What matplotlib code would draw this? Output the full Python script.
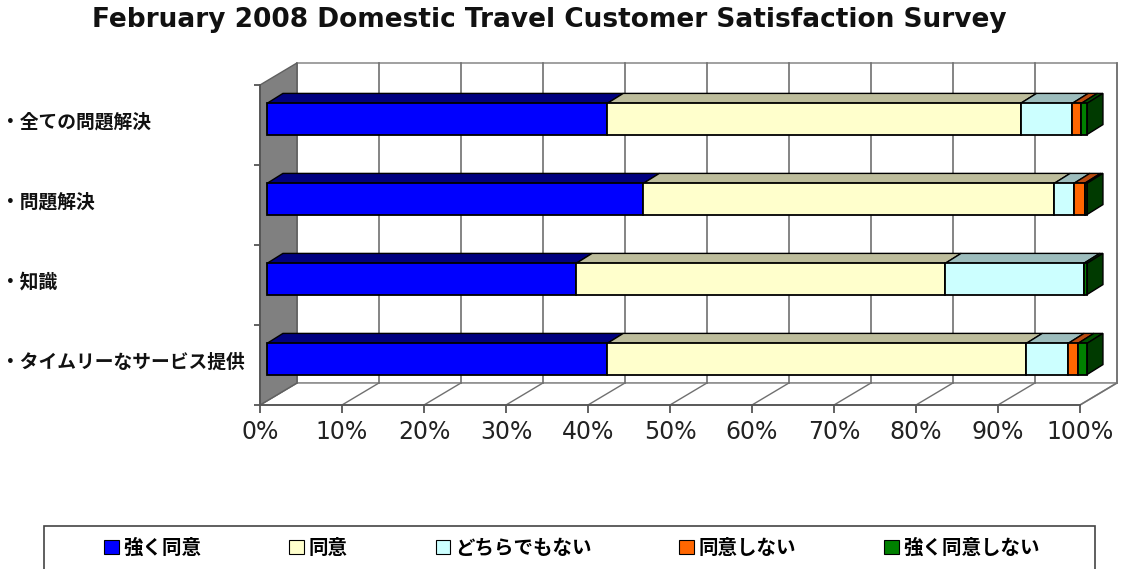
import numpy as np
import matplotlib
matplotlib.use("Agg")
import matplotlib.pyplot as plt
import matplotlib.transforms as mtransforms
from matplotlib.patches import Polygon, Rectangle, Patch

# survey results, percent of respondents per item
categories = ["・全ての問題解決", "・問題解決", "・知識", "・タイムリーなサービス提供"]
series_names = ["強く同意", "同意", "どちらでもない", "同意しない", "強く同意しない"]
strongly_agree = [41.5, 45.9, 37.7, 41.5]
agree = [50.4, 50.1, 45.0, 51.1]
neutral = [6.3, 2.4, 16.9, 5.1]
disagree = [1.1, 1.3, 0.0, 1.2]
strongly_disagree = [0.7, 0.3, 0.4, 1.1]
x_ticks = [0, 10, 20, 30, 40, 50, 60, 70, 80, 90, 100]
x_ticklabels = [f"{t}%" for t in x_ticks]
title = "February 2008 Domestic Travel Customer Satisfaction Survey"

front_colors = ["#0000FF", "#FFFFCC", "#CCFFFF", "#FF6600", "#008000"]
top_colors = ["#000080", "#BDBD9C", "#9DBDBD", "#B84A10", "#005000"]
side_color = "#003A00"

# fake 3d geometry (x in percent, y in category units)
WALL_DX, WALL_DY = 4.5, 0.275
BAR_DX, BAR_DY = 0.85, 0.075
BAR_H = 0.39
DEPTH_DX, DEPTH_DY = 1.95, 0.125
GRID = "#707070"

CJK = ["Noto Sans CJK JP", "DejaVu Sans"]

W, H = 1124, 569
fig = plt.figure(figsize=(W / 100, H / 100), dpi=100)
fig.patch.set_facecolor("white")
ax = fig.add_axes([260 / W, 164 / H, 820 / W, 320 / H])
ax.set_xlim(0, 100)
ax.set_ylim(3.5, -0.5)
ax.patch.set_visible(False)

top, bottom = -0.5, 3.5

# back wall + gridlines
ax.add_patch(Rectangle((WALL_DX, top - WALL_DY), 100, bottom - top,
                       fc="white", ec="#909090", lw=1.2, zorder=0, clip_on=False))
for t in x_ticks:
    ax.plot([t + WALL_DX] * 2, [top - WALL_DY, bottom - WALL_DY],
            color=GRID, lw=1.2, zorder=1, clip_on=False)

# floor
ax.add_patch(Polygon([(0, bottom), (100, bottom), (100 + WALL_DX, bottom - WALL_DY),
                      (WALL_DX, bottom - WALL_DY)],
                     closed=True, fc="white", ec="#909090", lw=1.2, zorder=0, clip_on=False))
for t in x_ticks:
    ax.plot([t, t + WALL_DX], [bottom, bottom - WALL_DY],
            color=GRID, lw=1.0, zorder=1, clip_on=False)

# left side wall
ax.add_patch(Polygon([(0, top), (0, bottom), (WALL_DX, bottom - WALL_DY),
                      (WALL_DX, top - WALL_DY)],
                     closed=True, fc="#808080", ec="#606060", lw=1.0, zorder=1, clip_on=False))

# stacked bars
series = [strongly_agree, agree, neutral, disagree, strongly_disagree]
ypos = np.arange(len(categories)) - BAR_DY
lefts = np.zeros(len(categories))
for vals, fc, tc in zip(series, front_colors, top_colors):
    vals = np.asarray(vals, dtype=float)
    ax.barh(ypos, vals, left=lefts + BAR_DX, height=BAR_H, color=fc,
            edgecolor="black", lw=1.3, zorder=4, clip_on=False)
    for y, l, w in zip(ypos, lefts, vals):
        if w <= 0:
            continue
        x0 = l + BAR_DX
        yt = y - BAR_H / 2
        ax.add_patch(Polygon([(x0, yt), (x0 + w, yt), (x0 + w + DEPTH_DX, yt - DEPTH_DY),
                              (x0 + DEPTH_DX, yt - DEPTH_DY)],
                             closed=True, fc=tc, ec="black", lw=1.0, zorder=3, clip_on=False))
    lefts = lefts + vals

# right-hand end of each bar
for y, r in zip(ypos, lefts):
    x1 = r + BAR_DX
    yt, yb = y - BAR_H / 2, y + BAR_H / 2
    ax.add_patch(Polygon([(x1, yt), (x1, yb), (x1 + DEPTH_DX, yb - DEPTH_DY),
                          (x1 + DEPTH_DX, yt - DEPTH_DY)],
                         closed=True, fc=side_color, ec="black", lw=1.0, zorder=3, clip_on=False))

# axes lines and ticks
for s in ("top", "right"):
    ax.spines[s].set_visible(False)
for s in ("left", "bottom"):
    ax.spines[s].set_color("#555555")
    ax.spines[s].set_linewidth(1.3)
ax.set_xticks(x_ticks)
ax.set_xticklabels(x_ticklabels, fontsize=17, family="DejaVu Sans", color="#222222")
ax.set_yticks(np.arange(-0.5, len(categories), 1.0))
ax.set_yticklabels([])
ax.tick_params(axis="x", direction="out", length=6, width=1.3, color="#555555", pad=5)
ax.tick_params(axis="y", direction="out", length=4, width=1.3, color="#555555")

# category labels, left aligned at the figure edge
lab_tr = mtransforms.blended_transform_factory(fig.transFigure, ax.transData)
for i, name in enumerate(categories):
    fig.text(1 / W, i - 0.04, name, transform=lab_tr, ha="left", va="center",
             fontsize=13.5, fontweight="bold", family=CJK, color="#111111")

fig.text(549 / W, 1 - 27 / H, title, ha="center", va="baseline",
         fontsize=19, fontweight="bold", family="DejaVu Sans", color="#111111")

# legend box runs off the bottom edge
fig.patches.append(Rectangle((44 / W, -0.05), (1095 - 44) / W, (569 - 526) / H + 0.05,
                             transform=fig.transFigure, fc="white", ec="#444444", lw=1.2))
handles = [Patch(fc=c, ec="black", lw=0.8) for c in front_colors]
fig.legend(handles, series_names, ncol=5, loc="center", mode="expand",
           bbox_to_anchor=(104 / W, 1 - 548 / H - 0.02, (1040 - 104) / W, 0.04),
           frameon=False, prop={"family": CJK, "size": 14, "weight": "bold"},
           handlelength=0.75, handleheight=0.75, handletextpad=0.25,
           borderaxespad=0, borderpad=0)

fig.savefig("out.png", dpi=100)
